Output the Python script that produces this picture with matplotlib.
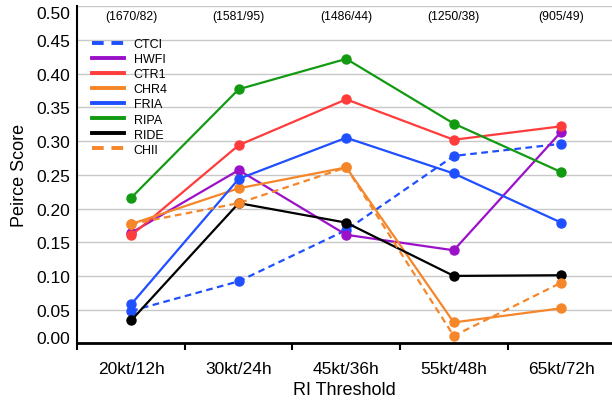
import matplotlib
matplotlib.use("Agg")
import matplotlib.pyplot as plt

categories = ["20kt/12h", "30kt/24h", "45kt/36h", "55kt/48h", "65kt/72h"]
counts = ["(1670/82)", "(1581/95)", "(1486/44)", "(1250/38)", "(905/49)"]

ctci = [0.048, 0.092, 0.168, 0.278, 0.296]
hwfi = [0.164, 0.257, 0.161, 0.138, 0.314]
ctr1 = [0.160, 0.294, 0.362, 0.302, 0.322]
chr4 = [0.177, 0.230, 0.261, 0.031, 0.052]
fria = [0.058, 0.244, 0.305, 0.252, 0.179]
ripa = [0.216, 0.377, 0.422, 0.326, 0.254]
ride = [0.034, 0.208, 0.179, 0.100, 0.101]
chii = [0.177, 0.208, 0.261, 0.011, 0.090]

plt.rcParams["font.family"] = ["Liberation Sans", "DejaVu Sans"]

series = [
    ("CTCI", ctci, "#1f4fff", "dash"),
    ("HWFI", hwfi, "#9b11c9", "solid"),
    ("CTR1", ctr1, "#ff3b3b", "solid"),
    ("CHR4", chr4, "#f5862a", "solid"),
    ("FRIA", fria, "#1f4fff", "solid"),
    ("RIPA", ripa, "#139a13", "solid"),
    ("RIDE", ride, "#000000", "solid"),
    ("CHII", chii, "#f5862a", "dash"),
]

fig = plt.figure(figsize=(6.12, 4.02), dpi=100)
ax = fig.add_axes([0.1266, 0.1435, 0.8734, 0.8383])

x = [i + 0.5 for i in range(len(categories))]
for name, vals, color, style in series:
    ls = (0, (3, 2)) if style == "dash" else "-"
    ax.plot(x, vals, color=color, linestyle=ls, lw=1.6, marker="o",
            markersize=6.5, label=name)

ax.set_xlim(0, 4.972)
ax.set_ylim(0.0, 0.50)
ax.set_yticks([i * 0.05 for i in range(11)])
ax.set_yticklabels([f"{i * 0.05:.2f}" for i in range(11)], fontsize=12.5)
ax.set_xticks(range(5))
ax.set_xticklabels([])
ax.set_xticks(x, minor=True)
ax.set_xticklabels(categories, minor=True, fontsize=12.5)
ax.tick_params(axis="x", which="major", length=5, width=1.5, direction="out")
ax.tick_params(axis="x", which="minor", length=0, pad=13)
ax.tick_params(axis="y", length=0, pad=5)

labels = ax.get_yticklabels()
labels[-1].set_va("top")
labels[0].set_va("baseline")

ax.grid(axis="y", color="#c8c8c8", lw=1)
ax.set_axisbelow(True)
for s in ["top", "right"]:
    ax.spines[s].set_visible(False)
ax.spines["left"].set_linewidth(1.5)
ax.spines["bottom"].set_linewidth(2)

for xi, txt in zip(x, counts):
    ax.text(xi, 0.4855, txt, ha="center", va="center", fontsize=8.7)

ax.set_xlabel("RI Threshold", fontsize=13, labelpad=3)
ax.set_ylabel("Peirce Score", fontsize=13, labelpad=6)

leg = ax.legend(loc="upper left", bbox_to_anchor=(0.027, 0.906), frameon=False,
                fontsize=9, handlelength=2.6, handletextpad=0.75,
                labelspacing=0.25, borderpad=0, borderaxespad=0, markerscale=0)
for h in leg.legend_handles:
    h.set_linewidth(2.8)

fig.savefig("out.png", dpi=100)
